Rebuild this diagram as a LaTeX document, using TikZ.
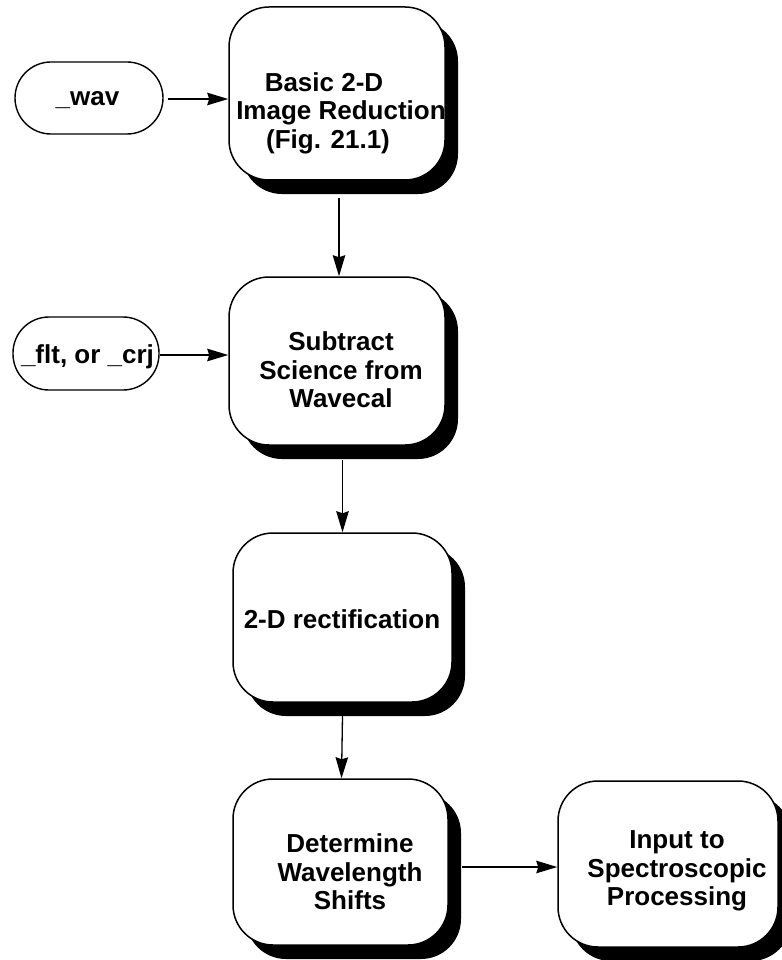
\documentclass[tikz,border=0pt]{standalone}
\usepackage{fontspec}
\setmainfont{Liberation Sans}
\usetikzlibrary{arrows.meta,shadows}
\begin{document}
\begin{tikzpicture}[x=1pt,y=-1pt,
  stepbox/.style={draw=black,line width=1.5pt,fill=white,rounded corners=40pt,
    inner sep=0pt,
    drop shadow={shadow xshift=13pt,shadow yshift=-14pt,fill=black,opacity=1}},
  oval/.style={draw=black,line width=1.4pt,fill=white,rounded corners=36pt,inner sep=0pt},
  lbl/.style={align=center,inner sep=0pt,font=\fontsize{26}{28.5}\selectfont\bfseries},
  flow/.style={line width=1.3pt,-{Stealth[length=21pt,width=12.5pt,inset=2pt]}}]
\useasboundingbox (0,0) rectangle (781,960);

% processing steps
\node[stepbox,minimum width=216pt,minimum height=173pt] (b1) at (337,93.5) {};
\node[stepbox,minimum width=216pt,minimum height=168pt] (b2) at (337,361) {};
\node[stepbox,minimum width=219pt,minimum height=169pt] (b3) at (342.5,617.5) {};
\node[stepbox,minimum width=215pt,minimum height=166pt] (b4) at (340.5,862) {};
\node[stepbox,minimum width=220pt,minimum height=166pt] (b5) at (668,864) {};

% step labels
\node[lbl] (t1) at (341,113) {Basic 2-D\hspace*{34pt}\\Image Reduction\\(Fig. 21.1)\hspace*{26pt}};
\node[lbl] (t2) at (341,370) {Subtract\\Science from\\Wavecal};
\node[lbl] (t3) at (342,619) {2-D rectification};
\node[lbl] (t4) at (350,872) {Determine\\Wavelength\\Shifts};
\node[lbl] (t5) at (677,871) {Input to\\Spectroscopic\\Processing};

% input files
\node[oval,minimum width=148pt,minimum height=72pt] (o1) at (89,98) {};
\node[oval,minimum width=146pt,minimum height=73pt] (o2) at (86,353.5) {};
\node[lbl] (i1) at (87.5,100) {\_wav};
\node[lbl] (i2) at (87.5,357) {\_flt, or \_crj};

% connectors
\draw[flow] ([xshift=4pt,yshift=-1pt]o1.east) -- ([yshift=-1pt]o1.east -| b1.west);
\draw[flow] ([yshift=-1.5pt]o2.east) -- ([yshift=-1.5pt]o2.east -| b2.west);
\draw[flow] ([xshift=2pt,yshift=-17pt]b1.south) -- ([xshift=2pt]b1.south |- b2.north);
\draw[flow] ([yshift=-14pt]b2.south -| b3.north) -- (b3.north);
\draw[flow] ([yshift=-13pt]b3.south) -- ([xshift=1pt]b4.north);
\draw[flow] ([xshift=13pt,yshift=-5pt]b4.east) -- ([yshift=-5pt]b4.east -| b5.west);
\end{tikzpicture}
\end{document}
